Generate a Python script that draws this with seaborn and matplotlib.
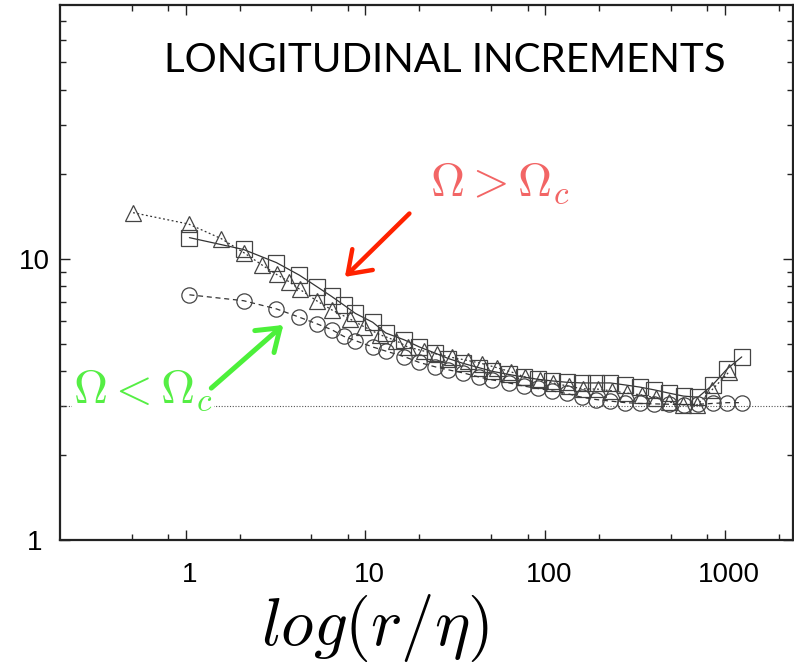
import matplotlib
matplotlib.use("Agg")
import matplotlib.pyplot as plt
import matplotlib.ticker as mticker
from matplotlib.transforms import ScaledTranslation
import seaborn as sns

# ---- data (r/eta, increment moment) ----
r_circ = [1.05, 2.1, 3.2, 4.3, 5.4, 6.5, 7.6, 8.8, 11, 13, 16.5, 20, 24.5, 29, 35, 43,
          51, 63, 76, 91, 110, 132, 160, 192, 231, 280, 336, 406, 490, 590, 711, 856,
          1032, 1244]
s_circ = [7.45, 7.1, 6.64, 6.2, 5.87, 5.6, 5.3, 5.12, 4.86, 4.7, 4.49, 4.28, 4.13, 4.03,
          3.93, 3.8, 3.71, 3.62, 3.53, 3.46, 3.39, 3.32, 3.22, 3.16, 3.12, 3.08, 3.06,
          3.05, 3.04, 3.03, 3.04, 3.06, 3.08, 3.08]

r_sq = [1.05, 2.1, 3.2, 4.3, 5.4, 6.5, 7.6, 8.8, 11, 13, 16.5, 20, 24.5, 29, 35, 43,
        51, 63, 76, 91, 110, 132, 160, 192, 231, 280, 336, 406, 490, 590, 711, 856,
        1032, 1244]
s_sq = [11.9, 10.8, 9.7, 8.75, 7.95, 7.35, 6.85, 6.4, 5.95, 5.45, 5.15, 4.86, 4.62, 4.42,
        4.25, 4.1, 3.98, 3.88, 3.8, 3.73, 3.68, 3.64, 3.62, 3.62, 3.62, 3.56, 3.5,
        3.42, 3.33, 3.25, 3.22, 3.56, 4.06, 4.48]

r_tri = [0.51, 1.04, 1.58, 2.12, 2.67, 3.21, 3.76, 4.31, 5.41, 6.52, 8.19, 9.87, 12.1,
         14.9, 17.2, 21.2, 25.2, 30.4, 37.3, 44.8, 54.1, 65.1, 77.4, 93.3, 111, 136,
         162, 197, 237.5, 287, 347, 417, 490, 584, 698, 846, 1053]
s_tri = [14.6, 13.3, 11.8, 10.5, 9.5, 8.8, 8.3, 7.8, 7.07, 6.58, 6.12, 5.73, 5.37, 5.11,
         4.86, 4.7, 4.58, 4.46, 4.35, 4.24, 4.1, 3.96, 3.8, 3.72, 3.62, 3.52, 3.45,
         3.44, 3.39, 3.33, 3.28, 3.2, 3.1, 3.03, 3.02, 3.41, 3.95]

x_major = [1, 10, 100, 1000]
x_major_labels = ["1", "10", "100", "1000"]
x_minor = [0.5, 0.8, 2, 5, 8, 20, 50, 80, 200, 500, 800, 2000]
y_major = [1, 10]
y_major_labels = ["1", "10"]
y_minor = [2, 3, 4, 5, 6, 7, 8, 9, 20, 30, 40, 50, 60, 70]
y_ref = 3

# ---- style ----
sns.set_style("ticks", {"axes.edgecolor": "#222222"})
plt.rcParams["font.family"] = ["Liberation Sans", "DejaVu Sans"]
plt.rcParams["mathtext.fontset"] = "cm"
plt.rcParams["text.color"] = "black"
plt.rcParams["axes.labelcolor"] = "black"
plt.rcParams["xtick.labelcolor"] = "black"
plt.rcParams["ytick.labelcolor"] = "black"

fig = plt.figure(figsize=(7.94, 6.64), dpi=100)
ax = fig.add_axes([60 / 794, 124 / 664, 733 / 794, 535 / 664])
ax.set(xscale="log", yscale="log")

ax.axhline(y_ref, color="#555555", lw=0.8, ls=(0, (1, 1.5)), zorder=1)

common = dict(ax=ax, color="#333333", markersize=11, markerfacecolor="none",
              markeredgecolor="#444444", markeredgewidth=0.9)
sns.lineplot(x=r_sq, y=s_sq, marker="s", linestyle="-", linewidth=0.9, **common)
sns.lineplot(x=r_tri, y=s_tri, marker="^", linestyle=(0, (1.5, 2)), linewidth=0.9, **common)
sns.lineplot(x=r_circ, y=s_circ, marker="o", linestyle=(0, (4, 3)), linewidth=0.9, **common)

ax.set_xlim(0.2, 2400)
ax.set_ylim(1, 80)
ax.set_xticks(x_major, labels=x_major_labels)
ax.set_xticks(x_minor, minor=True)
ax.set_yticks(y_major, labels=y_major_labels)
ax.set_yticks(y_minor, minor=True)
ax.xaxis.set_minor_formatter(mticker.NullFormatter())
ax.yaxis.set_minor_formatter(mticker.NullFormatter())
ax.tick_params(which="both", direction="in", top=True, right=True,
               color="#222222", width=1.0, labelsize=20, labelcolor="black")
ax.tick_params(which="major", length=7)
ax.tick_params(which="minor", length=4)
ax.tick_params(axis="x", pad=16)
ax.tick_params(axis="y", pad=18.5)
for lab in ax.get_yticklabels():
    lab.set_horizontalalignment("center")
shift = ScaledTranslation(4 / 100, 0, fig.dpi_scale_trans)
for lab in ax.get_xticklabels():
    lab.set_transform(lab.get_transform() + shift)
for sp in ax.spines.values():
    sp.set_linewidth(1.6)

ax.set_xlabel(r"$log(r/\eta)$", fontsize=48, color="black")
ax.set_ylabel("")
ax.xaxis.set_label_coords(0.43, -0.098)

ax.text(0.5245, 0.897, "LONGITUDINAL INCREMENTS", transform=ax.transAxes,
        ha="center", va="center", fontsize=29, color="black",
        family=["Lato", "DejaVu Sans"])

ax.text(56, 18.5, r"$\Omega > \Omega_c$", color="#f26565", fontsize=34,
        ha="center", va="center")
ax.text(0.58, 3.42, r"$\Omega < \Omega_c$", color="#55ee44", fontsize=34,
        ha="center", va="center",
        bbox=dict(facecolor="white", edgecolor="none", pad=1))

ax.annotate("", xy=(7.7, 8.63), xytext=(17.6, 14.5),
            arrowprops=dict(arrowstyle="->,head_length=0.5,head_width=0.35",
                            color="#ff2200", lw=3.2, mutation_scale=30,
                            shrinkA=0, shrinkB=0))
ax.annotate("", xy=(3.5, 5.82), xytext=(1.39, 3.47),
            arrowprops=dict(arrowstyle="->,head_length=0.5,head_width=0.35",
                            color="#4cf03a", lw=3.6, mutation_scale=30,
                            shrinkA=0, shrinkB=0))

fig.savefig("out.png", dpi=100)
